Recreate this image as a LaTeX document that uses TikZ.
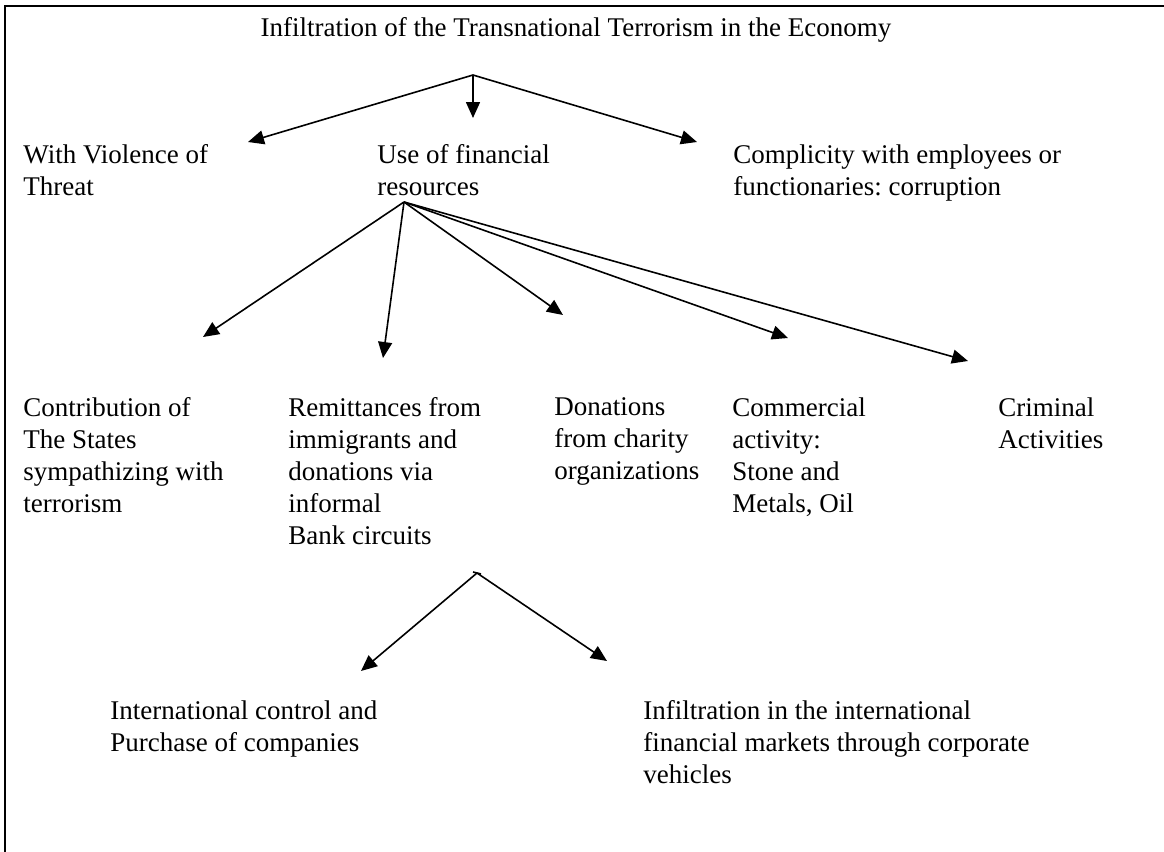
\documentclass[tikz,border=0pt]{standalone}
\usepackage{fontspec}
\setmainfont{Liberation Serif}
\frenchspacing
\usetikzlibrary{arrows.meta}
\begin{document}
\begin{tikzpicture}[x=0.5pt,y=-0.5pt,
  lbl/.style={anchor=north west,align=left,inner sep=0pt,font=\fontsize{13.5}{16}\selectfont},
  arr/.style={-{Triangle[length=8pt,width=7pt]},line width=0.8pt}]
\useasboundingbox (0,0) rectangle (1164,852);

% frame
\draw[line width=1pt] (1164,6) -- (5,6) -- (5,852);

% texts
\node[anchor=base,inner sep=0pt,font=\fontsize{13.5}{16}\selectfont] (title) at (576,36) {Infiltration of the Transnational Terrorism in the Economy};

\node[lbl] (viol) at (23,144) {With Violence of\\Threat};
\node[lbl] (fin) at (377,144) {Use of financial\\resources};
\node[lbl] (compl) at (733,144) {Complicity with employees or\\functionaries: corruption};

\node[lbl] (states) at (23,397) {Contribution of\\The States\\sympathizing with\\terrorism};
\node[lbl] (remit) at (288,397) {Remittances from\\immigrants and\\donations via\\informal\\Bank circuits};
\node[lbl] (charity) at (554,397) {Donations\\from charity\\organizations};
\node[lbl] (comm) at (732,397) {Commercial\\activity:\\Stone and\\Metals, Oil};
\node[lbl] (crim) at (998,397) {Criminal\\Activities};

\node[lbl] (purch) at (110,700) {International control and\\Purchase of companies};
\node[lbl] (markets) at (643,700) {Infiltration in the international\\financial markets through corporate\\vehicles};

% fork points and arrow ends
\coordinate (f1) at (473,75);
\coordinate (t1) at (248,142);
\coordinate (t2) at (473,118);
\coordinate (t3) at (697,142);
\coordinate (f2) at (404,202);
\coordinate (t4) at (203,337);
\coordinate (t5) at (383,358);
\coordinate (t6) at (563,315);
\coordinate (t7) at (788,338);
\coordinate (t8) at (968,361);
\coordinate (f3) at (477,573);
\coordinate (t9) at (361,671);
\coordinate (t10) at (607,661);

\draw[arr] (f1) -- (t1);
\draw[arr] (f1) -- (t2);
\draw[arr] (f1) -- (t3);
\draw[arr] (f2) -- (t4);
\draw[arr] (f2) -- (t5);
\draw[arr] (f2) -- (t6);
\draw[arr] (f2) -- (t7);
\draw[arr] (f2) -- (t8);
\draw[arr] (f3) -- (t9);
\draw[arr] (f3) -- (t10);
\draw[line width=0.8pt] (f3) ++(-4,-1) -- ++(8,2);
\end{tikzpicture}
\end{document}
